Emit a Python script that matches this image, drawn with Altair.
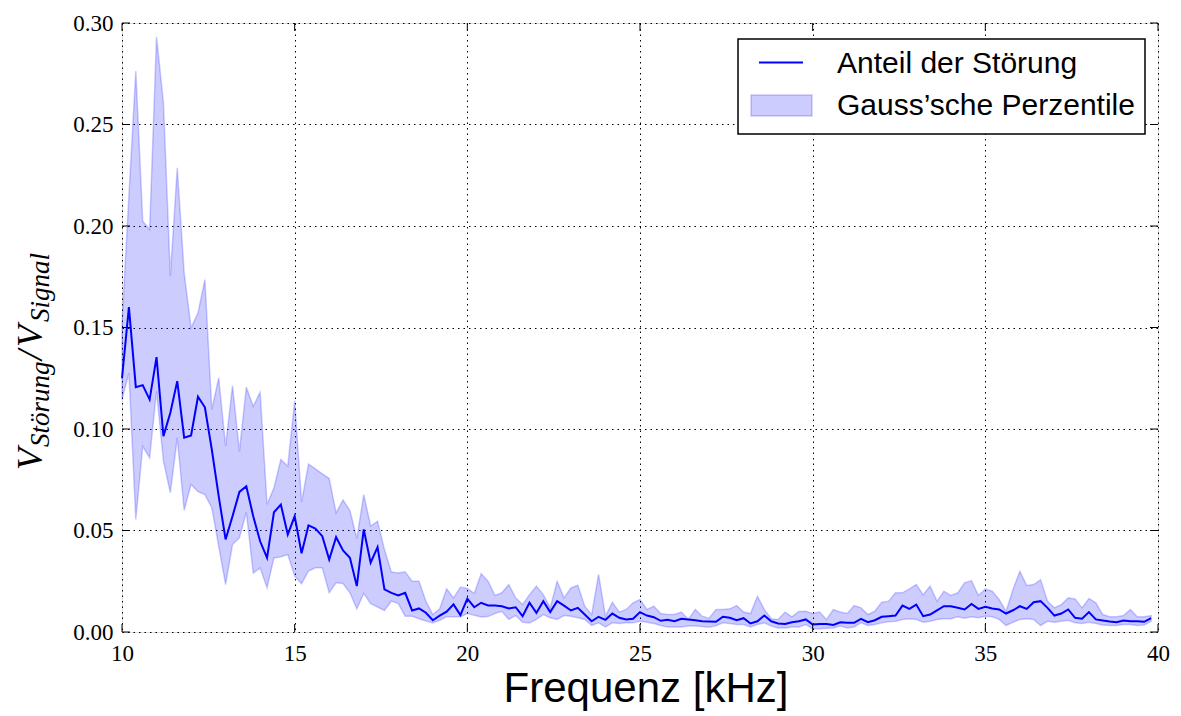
import altair as alt
import pandas as pd

# ---- data ----
freq = [round(10.0 + 0.2 * i, 1) for i in range(150)]

ratio = [0.125, 0.160, 0.1206, 0.1216, 0.1145, 0.1354, 0.0965, 0.108, 0.1236, 0.0957,
         0.0968, 0.1159, 0.1107, 0.0899, 0.0669, 0.0456, 0.057, 0.069, 0.0718, 0.057,
         0.0447, 0.0365, 0.059, 0.0628, 0.048, 0.057, 0.0388, 0.0525, 0.051, 0.0472,
         0.0357, 0.0467, 0.0402, 0.0366, 0.0226, 0.0505, 0.0341, 0.0418, 0.021, 0.0193,
         0.018, 0.0193, 0.0106, 0.0116, 0.0095, 0.0058, 0.0081, 0.0100, 0.0136, 0.0083,
         0.0164, 0.0122, 0.0144, 0.0131, 0.013, 0.0127, 0.0116, 0.0122, 0.0078, 0.0144,
         0.0094, 0.0152, 0.0098, 0.0152, 0.013, 0.0106, 0.0119, 0.0086, 0.0053, 0.0075,
         0.006, 0.0091, 0.007, 0.0062, 0.0065, 0.0098, 0.0081, 0.0073, 0.0055, 0.006,
         0.0053, 0.0065, 0.0062, 0.0058, 0.0053, 0.0052, 0.0050, 0.0075, 0.007, 0.0058,
         0.0068, 0.0042, 0.0053, 0.0081, 0.0053, 0.0042, 0.0039, 0.0048, 0.0053, 0.0062,
         0.0037, 0.004, 0.0039, 0.0035, 0.0048, 0.0045, 0.0045, 0.0065, 0.0048, 0.0058,
         0.0075, 0.0078, 0.0081, 0.013, 0.0114, 0.0135, 0.0078, 0.0086, 0.0107, 0.0127,
         0.0127, 0.0119, 0.0111, 0.0138, 0.0114, 0.0124, 0.0116, 0.0111, 0.0091, 0.0107,
         0.0127, 0.0114, 0.0147, 0.0152, 0.0119, 0.0081, 0.0091, 0.0111, 0.007, 0.0065,
         0.0098, 0.0062, 0.0057, 0.0052, 0.0048, 0.0057, 0.0053, 0.0053, 0.005, 0.0068]

upper = [0.152, 0.215, 0.2763, 0.2024, 0.1983, 0.2932, 0.2607, 0.1753, 0.2287, 0.1769,
         0.1499, 0.1572, 0.1736, 0.1096, 0.1252, 0.0915, 0.1214, 0.089, 0.1206, 0.1112,
         0.1181, 0.0628, 0.071, 0.085, 0.0817, 0.1140, 0.064, 0.0828, 0.0804, 0.0779,
         0.0756, 0.0587, 0.065, 0.0598, 0.046, 0.0677, 0.0522, 0.0546, 0.0406, 0.0295,
         0.0291, 0.0296, 0.025, 0.025, 0.0152, 0.0086, 0.0114, 0.0213, 0.0168, 0.0221,
         0.0214, 0.019, 0.0287, 0.025, 0.018, 0.0193, 0.0234, 0.0168, 0.0135, 0.0184,
         0.0226, 0.0184, 0.0119, 0.025, 0.0168, 0.0217, 0.023, 0.0127, 0.0086, 0.0284,
         0.0078, 0.0147, 0.0098, 0.0111, 0.0144, 0.016, 0.0111, 0.0127, 0.0091, 0.0086,
         0.0086, 0.0098, 0.0062, 0.0111, 0.0078, 0.0068, 0.0111, 0.0111, 0.0114, 0.013,
         0.0098, 0.0091, 0.0176, 0.0111, 0.0065, 0.0062, 0.0098, 0.0075, 0.0101, 0.0102,
         0.0091, 0.0098, 0.0062, 0.0111, 0.0098, 0.0091, 0.013, 0.0119, 0.0086, 0.0102,
         0.0147, 0.0152, 0.0193, 0.0193, 0.0212, 0.0234, 0.0184, 0.0226, 0.0152, 0.0201,
         0.018, 0.0193, 0.0242, 0.0253, 0.018, 0.0212, 0.0201, 0.016, 0.0102, 0.0209,
         0.0299, 0.0229, 0.0234, 0.0258, 0.0152, 0.0119, 0.0135, 0.0168, 0.0163, 0.0119,
         0.0165, 0.0144, 0.0086, 0.0075, 0.0075, 0.0081, 0.0111, 0.0075, 0.0075, 0.0081]

lower = [0.1145, 0.1276, 0.0554, 0.0915, 0.0858, 0.1186, 0.0842, 0.0686, 0.0956, 0.06,
         0.0727, 0.0691, 0.0677, 0.0612, 0.0423, 0.0234, 0.0431, 0.0464, 0.059, 0.029,
         0.0316, 0.0218, 0.0365, 0.037, 0.0382, 0.0275, 0.0238, 0.030, 0.0316, 0.0316,
         0.0193, 0.0242, 0.0239, 0.0193, 0.0114, 0.019, 0.014, 0.0123, 0.0106, 0.0152,
         0.014, 0.0078, 0.0078, 0.0065, 0.0054, 0.0045, 0.0058, 0.0075, 0.0075, 0.0075,
         0.0091, 0.0082, 0.0074, 0.0076, 0.0091, 0.0102, 0.0062, 0.0081, 0.0048, 0.0045,
         0.0062, 0.0086, 0.007, 0.0062, 0.0081, 0.0078, 0.007, 0.0062, 0.0032, 0.0045,
         0.0025, 0.0045, 0.0042, 0.0045, 0.0045, 0.0053, 0.0048, 0.0042, 0.0032, 0.0025,
         0.0025, 0.0025, 0.0029, 0.0029, 0.0027, 0.0023, 0.0031, 0.0045, 0.0042, 0.0037,
         0.0037, 0.0025, 0.0037, 0.0045, 0.0029, 0.002, 0.002, 0.0025, 0.0025, 0.0037,
         0.0016, 0.0016, 0.0019, 0.002, 0.0029, 0.002, 0.0025, 0.0045, 0.0032, 0.0037,
         0.0045, 0.005, 0.0053, 0.0062, 0.0065, 0.0062, 0.0048, 0.0053, 0.0062, 0.0065,
         0.0065, 0.0075, 0.0068, 0.0075, 0.007, 0.0078, 0.0075, 0.0062, 0.0032, 0.0048,
         0.0062, 0.0065, 0.0062, 0.0032, 0.0053, 0.0048, 0.0053, 0.0058, 0.0045, 0.0042,
         0.0048, 0.0042, 0.0035, 0.0032, 0.0032, 0.0037, 0.0037, 0.0032, 0.0035, 0.0053]

x_ticks = [10, 15, 20, 25, 30, 35, 40]
y_ticks = [0.0, 0.05, 0.10, 0.15, 0.20, 0.25, 0.30]

legend_line = "Anteil der Störung"
legend_band = "Gauss\u2019sche Perzentile"
x_title = "Frequenz [kHz]"

W, H = 1036, 609
BLUE = "#0000ff"
SERIF = "Liberation Serif"
SANS = "Liberation Sans"

df = pd.DataFrame({"f": freq, "r": ratio, "hi": upper, "lo": lower})
xt = pd.DataFrame({"t": x_ticks})
yt = pd.DataFrame({"t": y_ticks})
one = pd.DataFrame({"a": [0]})

xs = alt.Scale(domain=[10, 40], nice=False, zero=False)
ys = alt.Scale(domain=[0, 0.3], nice=False, zero=False)

xax = alt.Axis(values=x_ticks, format="d", title=None, grid=True, domain=False,
               tickSize=0, labelPadding=10, labelFont=SERIF, labelFontSize=23,
               labelColor="black", gridColor="black", gridDash=[1.5, 4],
               gridWidth=1, gridOpacity=1, labelFlush=False)
yax = alt.Axis(values=y_ticks, format=".2f", title=None, grid=True, domain=False,
               tickSize=0, labelPadding=9, labelFont=SERIF, labelFontSize=23,
               labelColor="black", gridColor="black", gridDash=[1.5, 4],
               gridWidth=1, gridOpacity=1, labelFlush=False)

band = alt.Chart(df).mark_area(fill=BLUE, fillOpacity=0.2, stroke=BLUE,
                               strokeOpacity=0.2, strokeWidth=1.5).encode(
    x=alt.X("f:Q", scale=xs, axis=xax),
    y=alt.Y("hi:Q", scale=ys, axis=yax),
    y2="lo:Q",
)
line = alt.Chart(df).mark_line(color=BLUE, strokeWidth=2).encode(
    x=alt.X("f:Q", scale=xs), y=alt.Y("r:Q", scale=ys))

tick_style = dict(color="black", strokeWidth=1)
xt_bot = alt.Chart(xt).mark_rule(**tick_style).encode(
    x=alt.X("t:Q", scale=xs), y=alt.value(H), y2=alt.value(H - 8))
xt_top = alt.Chart(xt).mark_rule(**tick_style).encode(
    x=alt.X("t:Q", scale=xs), y=alt.value(0), y2=alt.value(8))
yt_l = alt.Chart(yt).mark_rule(**tick_style).encode(
    y=alt.Y("t:Q", scale=ys), x=alt.value(0), x2=alt.value(8))
yt_r = alt.Chart(yt).mark_rule(**tick_style).encode(
    y=alt.Y("t:Q", scale=ys), x=alt.value(W), x2=alt.value(W - 8))

# legend box
leg_box = alt.Chart(one).mark_rect(fill="white", stroke="black", strokeWidth=1.5).encode(
    x=alt.value(616), x2=alt.value(1023), y=alt.value(16), y2=alt.value(111))
leg_line = alt.Chart(one).mark_rule(color=BLUE, strokeWidth=2).encode(
    x=alt.value(637), x2=alt.value(681), y=alt.value(39.5))
leg_patch = alt.Chart(one).mark_rect(fill=BLUE, fillOpacity=0.2, stroke=BLUE,
                                     strokeOpacity=0.2, strokeWidth=1.5).encode(
    x=alt.value(629), x2=alt.value(690), y=alt.value(72), y2=alt.value(93))
leg_t1 = alt.Chart(one).mark_text(align="left", baseline="alphabetic", font=SANS,
                                  fontSize=30, color="black").encode(
    x=alt.value(715), y=alt.value(50), text=alt.value(legend_line))
leg_t2 = alt.Chart(one).mark_text(align="left", baseline="alphabetic", font=SANS,
                                  fontSize=30, color="black").encode(
    x=alt.value(715), y=alt.value(92), text=alt.value(legend_band))

# axis titles
xtitle = alt.Chart(one).mark_text(align="center", baseline="alphabetic", font=SANS,
                                  fontSize=42, color="black").encode(
    x=alt.value(W / 2 + 6), y=alt.value(679), text=alt.value(x_title))


def ypiece(txt, ypos, xpos, size):
    return alt.Chart(one).mark_text(align="left", baseline="alphabetic", font=SERIF,
                                    fontStyle="italic", fontSize=size, angle=270,
                                    color="black").encode(
        x=alt.value(xpos), y=alt.value(ypos), text=alt.value(txt))


ytitle = [
    ypiece("V", 447, -80, 36),
    ypiece("Störung", 424, -73, 27),
    ypiece("/", 337, -80, 36),
    ypiece("V", 324, -80, 36),
    ypiece("Signal", 299, -73, 27),
]

chart = alt.layer(band, line, xt_bot, xt_top, yt_l, yt_r, leg_box, leg_line,
                  leg_patch, leg_t1, leg_t2, xtitle, *ytitle).properties(
    width=W, height=H,
    autosize=alt.AutoSizeParams(type="none"),
    padding={"left": 114, "top": 15, "right": 15, "bottom": 80},
).configure_view(stroke="black", strokeWidth=1.8).configure(background="white")

chart.save("out.html", embed_options={"renderer": "svg", "actions": False})
